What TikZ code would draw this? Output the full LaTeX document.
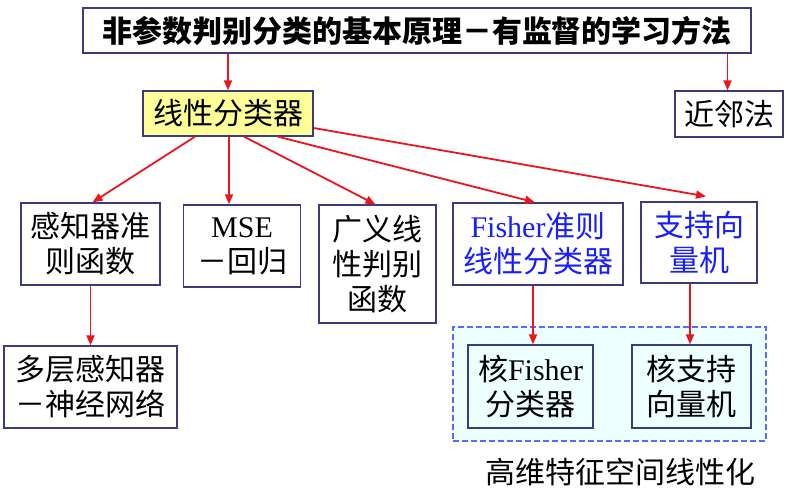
\documentclass[tikz,border=0pt]{standalone}
\usepackage{fontspec}
\setmainfont{Liberation Serif}
\newfontfamily\cjk{Noto Sans CJK SC}
\newfontfamily\latfont{Liberation Serif}
\newcommand\tm[1]{{\latfont #1}}
\usetikzlibrary{arrows.meta}
\definecolor{boxline}{RGB}{60,60,125}
\definecolor{arrred}{RGB}{238,20,30}
\definecolor{txtblue}{RGB}{25,30,255}
\definecolor{dashblue}{RGB}{90,105,255}
\definecolor{lightcyan}{RGB}{238,255,255}
\definecolor{yel}{RGB}{255,255,153}
\tikzset{
  bx/.style={draw=boxline, line width=1.3pt, fill=white, inner sep=0pt, align=center,
     font=\cjk\fontsize{30}{35}\selectfont},
  arr/.style={draw=arrred, line width=1.8pt, -{Triangle[length=10pt,width=8pt]}},
}
\begin{document}
\begin{tikzpicture}[x=1pt,y=-1pt]
\useasboundingbox (0,0) rectangle (806,498);
% dashed region
\node[draw=dashblue, dashed, dash pattern=on 6pt off 3pt, line width=1.2pt, fill=lightcyan,
      minimum width=313pt, minimum height=114pt, inner sep=0pt] (region) at (609.5,384) {};
\node[bx, font=\cjk\bfseries\fontsize{30}{35}\selectfont, minimum width=668pt, minimum height=45pt] (top) at (417,30.5) {非参数判别分类的基本原理－有监督的学习方法};
\node[bx, fill=yel, minimum width=170pt, minimum height=45pt] (lin) at (228,113.5) {线性分类器};
\node[bx, minimum width=108pt, minimum height=46pt] (nn) at (729,114) {近邻法};
\node[bx, minimum width=139pt, minimum height=82pt] (perc) at (90.5,244) {感知器准\\则函数};
\node[bx, minimum width=117.5pt, minimum height=82pt] (mse) at (242,246) {\tm{MSE}\\－回归};
\node[bx, minimum width=117pt, minimum height=118pt] (glin) at (377.5,264) {广义线\\性判别\\函数};
\node[bx, text=txtblue, minimum width=170pt, minimum height=82pt] (fisher) at (538,244) {\tm{Fisher}准则\\线性分类器};
\node[bx, text=txtblue, minimum width=116pt, minimum height=81pt] (svm) at (699,242.5) {支持向\\量机};
\node[bx, minimum width=173pt, minimum height=82pt] (mlp) at (90.5,387) {多层感知器\\－神经网络};
\node[bx, fill=lightcyan, minimum width=125pt, minimum height=83pt] (kf) at (530.5,386.5) {核\tm{Fisher}\\分类器};
\node[bx, fill=lightcyan, minimum width=119pt, minimum height=83pt] (ksvm) at (691.5,386.5) {核支持\\向量机};
\node[inner sep=0pt, font=\cjk\fontsize{30}{35}\selectfont] (lbl) at (620,472) {高维特征空间线性化};
% arrows
\draw[arr] (top.south -| lin.north) -- (lin.north);
\draw[arr] ([xshift=-1.5pt]top.south -| nn.north) -- ([xshift=-1.5pt]nn.north);
\draw[arr] ([xshift=-33pt]lin.south) -- ([xshift=2pt]perc.north);
\draw[arr] ([xshift=1pt]lin.south) -- ([xshift=-13pt]mse.north);
\draw[arr] ([xshift=16pt]lin.south) -- ([xshift=-2pt]glin.north);
\draw[arr] ([xshift=50pt]lin.south) -- ([xshift=-3pt]fisher.north);
\draw[arr] ([yshift=-14.5pt]lin.east) -- ([xshift=7pt,yshift=5pt]svm.north);
\draw[arr] (perc.south) -- (mlp.north);
\draw[arr] ([xshift=-5pt]fisher.south) -- ([xshift=2.5pt]kf.north);
\draw[arr] ([xshift=-9pt]svm.south) -- ([xshift=-1.5pt]ksvm.north);
\end{tikzpicture}
\end{document}
